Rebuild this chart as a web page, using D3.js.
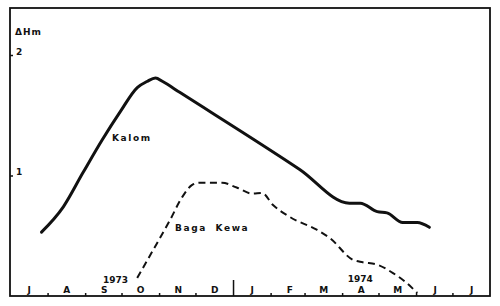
<!DOCTYPE html>
<html><head><meta charset="utf-8">
<script src="https://cdn.jsdelivr.net/npm/d3@7"></script>
<style>body{margin:0;background:#fff}</style>
</head><body><svg id="c" width="500" height="306"></svg>
<script>
// ---- data ----
const kalomDates = ["1973-07-27","1973-08-14","1973-08-30","1973-09-15","1973-09-30","1973-10-14","1973-10-22","1973-10-29","1973-11-04","1973-11-18","1974-02-25","1974-04-07","1974-04-16","1974-04-30","1974-05-08","1974-05-21","1974-06-02","1974-06-12"];
const kalomValues = [0.53,0.74,1.02,1.295,1.53,1.73,1.78,1.81,1.78,1.69,1.05,0.77,0.77,0.70,0.69,0.61,0.61,0.57];
const bagaDates = ["1973-10-14","1973-10-27","1973-11-10","1973-11-20","1973-11-28","1973-12-04","1973-12-23","1974-01-04","1974-01-17","1974-01-25","1974-02-03","1974-02-17","1974-03-11","1974-03-22","1974-04-10","1974-04-18","1974-04-30","1974-05-13","1974-05-24","1974-06-02"];
const bagaValues = [0.15,0.38,0.63,0.82,0.92,0.94,0.94,0.90,0.85,0.855,0.755,0.655,0.55,0.48,0.30,0.28,0.26,0.19,0.11,0.025];
const monthLabels = ["J","A","S","O","N","D","J","F","M","A","M","J","J"];
const yTicks = [1,2];
const yLabel = "\u0394Hm";
const seriesNames = ["Kalom","Baga Kewa"];
const yearLabels = ["1973","1974"];

const parse = d3.utcParse("%Y-%m-%d");
const svg = d3.select("#c");
const FONT = "'DejaVu Sans', Arial, sans-serif";
const ink = "#111";

const x = d3.scaleUtc().domain([Date.UTC(1973,6,1), Date.UTC(1974,7,1)]).range([10,490]);
const y = d3.scaleLinear().domain([0,2]).range([296,55]);

// frame
svg.append("rect").attr("x",10).attr("y",8).attr("width",480).attr("height",288)
  .attr("fill","none").attr("stroke",ink).attr("stroke-width",1.8);

// month boundary ticks (inward)
const boundaries = d3.utcMonth.range(Date.UTC(1973,7,1), Date.UTC(1974,7,1));
const xAxis = d3.axisBottom(x).tickValues(boundaries)
  .tickSize(-3).tickFormat("");
const gx = svg.append("g").attr("transform","translate(0,296)").call(xAxis);
gx.select(".domain").remove();
gx.selectAll(".tick line").attr("stroke",ink).attr("stroke-width",1.5)
  .filter(d => d.getUTCMonth()===0).attr("y2",-16);

// month labels at mid-month
const mids = d3.utcMonth.range(Date.UTC(1973,6,1), Date.UTC(1974,7,1)).map(d => new Date(d.getTime()+15*864e5));
svg.append("g").selectAll("text").data(mids).join("text")
  .attr("x",d=>x(d)+1).attr("y",293).attr("text-anchor","middle")
  .attr("font-family",FONT).attr("font-weight","bold").attr("font-size",9).attr("fill",ink)
  .text((d,i)=>monthLabels[i]);

// year labels
const yearPos = [Date.UTC(1973,8,26), Date.UTC(1974,3,16)];
svg.append("g").selectAll("text").data(yearLabels).join("text")
  .attr("x",(d,i)=>x(yearPos[i])).attr("y",(d,i)=>i?282:283).attr("text-anchor","middle")
  .attr("font-family",FONT).attr("font-weight","bold").attr("font-size",9).attr("fill",ink)
  .text(d=>d);

// y axis
const yAxis = d3.axisRight(y).tickValues(yTicks).tickSize(3).tickPadding(3).tickFormat(d3.format("d"));
const gy = svg.append("g").attr("transform","translate(10,0)").call(yAxis);
gy.select(".domain").remove();
gy.selectAll(".tick line").attr("stroke",ink).attr("stroke-width",1.5);
gy.selectAll(".tick text").attr("font-family",FONT).attr("font-weight","bold").attr("font-size",9).attr("fill",ink).attr("dy","-0.1em");
svg.append("text").attr("x",15).attr("y",35).attr("font-family",FONT).attr("font-weight","bold")
  .attr("font-size",9).attr("letter-spacing",1).attr("fill",ink).text(yLabel);

// lines
const line = d3.line().x(d=>x(d[0])).y(d=>y(d[1])).curve(d3.curveMonotoneX);
const kalom = kalomDates.map((d,i)=>[parse(d), kalomValues[i]]);
const baga = bagaDates.map((d,i)=>[parse(d), bagaValues[i]]);
svg.append("path").attr("d",line(kalom)).attr("fill","none").attr("stroke",ink)
  .attr("stroke-width",3).attr("stroke-linejoin","round").attr("stroke-linecap","round");
svg.append("path").attr("d",line(baga)).attr("fill","none").attr("stroke",ink)
  .attr("stroke-width",2).attr("stroke-dasharray","7,4.5");

// series labels
svg.append("text").attr("x",112).attr("y",141).attr("font-family",FONT).attr("font-weight","bold")
  .attr("font-size",9).attr("letter-spacing",1.6).attr("fill",ink).text(seriesNames[0]);
svg.append("text").attr("x",175).attr("y",231).attr("font-family",FONT).attr("font-weight","bold")
  .attr("font-size",9).attr("letter-spacing",1.6).attr("fill",ink).attr("word-spacing",4).text(seriesNames[1]);
</script></body></html>
